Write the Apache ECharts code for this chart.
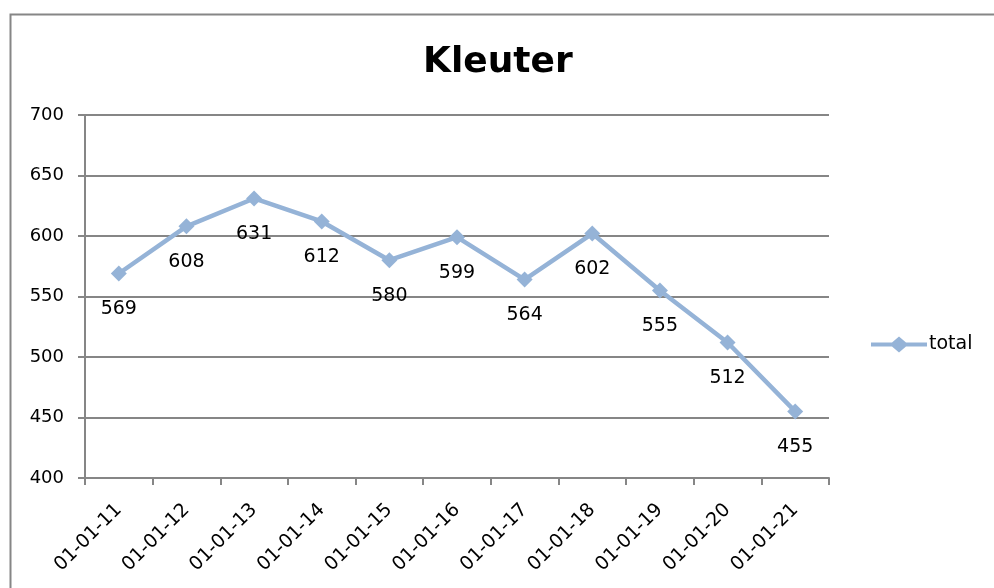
<!DOCTYPE html>
<html>
<head>
<meta charset="utf-8">
<script src="https://cdn.jsdelivr.net/npm/echarts@6/dist/echarts.min.js"></script>
<style>
  html, body { margin: 0; padding: 0; background: #fff; }
  #chart { width: 994px; height: 588px; }
</style>
</head>
<body>
<div id="chart"></div>
<script>
const categories = ["01-01-11", "01-01-12", "01-01-13", "01-01-14", "01-01-15", "01-01-16",
  "01-01-17", "01-01-18", "01-01-19", "01-01-20", "01-01-21"];
const totalValues = [569, 608, 631, 612, 580, 599, 564, 602, 555, 512, 455];

const lineColor = "#95b3d7";
const axisColor = "#868686";
const font = "DejaVu Sans";

const myChart = echarts.init(document.getElementById("chart"));

// line with a diamond in the middle, like the excel legend key
const legendIcon = "path://M0,6L21,6L28,0L35,6L56,6L56,10L35,10L28,16L21,10L0,10Z";

const option = {
  backgroundColor: "#fff",
  animation: false,
  textStyle: { fontFamily: font },
  title: {
    text: "Kleuter",
    left: 418,
    top: 40,
    textStyle: { fontSize: 36, fontWeight: "bold", color: "#000", fontFamily: font }
  },
  // outer chart frame
  graphic: [{
    type: "rect",
    left: 8,
    top: 12,
    shape: { width: 1000, height: 600 },
    style: { fill: "none", stroke: axisColor, lineWidth: 2 },
    z: -1
  }],
  legend: {
    data: [{ name: "total", icon: legendIcon }],
    left: 866,
    top: 330,
    itemWidth: 56,
    itemHeight: 16,
    itemGap: 0,
    itemStyle: { color: lineColor },
    textStyle: { fontSize: 19, color: "#000", fontFamily: font, padding: [0, 0, 0, -3] }
  },
  grid: { left: 85, right: 165, top: 115, bottom: 110, containLabel: false },
  xAxis: {
    type: "category",
    data: categories,
    boundaryGap: true,
    axisLine: { lineStyle: { color: axisColor, width: 2 } },
    axisTick: { show: true, length: 7, lineStyle: { color: axisColor, width: 2 } },
    axisLabel: { rotate: 45, color: "#000", fontSize: 19, margin: 29, fontFamily: font }
  },
  yAxis: {
    type: "value",
    min: 400,
    max: 700,
    interval: 50,
    axisLine: { show: true, lineStyle: { color: axisColor, width: 2 } },
    axisTick: { show: true, length: 7, lineStyle: { color: axisColor, width: 2 } },
    splitLine: { lineStyle: { color: axisColor, width: 2 } },
    axisLabel: { color: "#000", fontSize: 18, margin: 21, fontFamily: font }
  },
  series: [{
    name: "total",
    type: "line",
    data: totalValues,
    symbol: "diamond",
    symbolSize: 16,
    lineStyle: { color: lineColor, width: 4.5 },
    itemStyle: { color: lineColor },
    label: {
      show: true,
      position: "bottom",
      distance: 18,
      color: "#000",
      fontSize: 19,
      fontFamily: font
    }
  }]
};

myChart.setOption(option);
</script>
</body>
</html>
